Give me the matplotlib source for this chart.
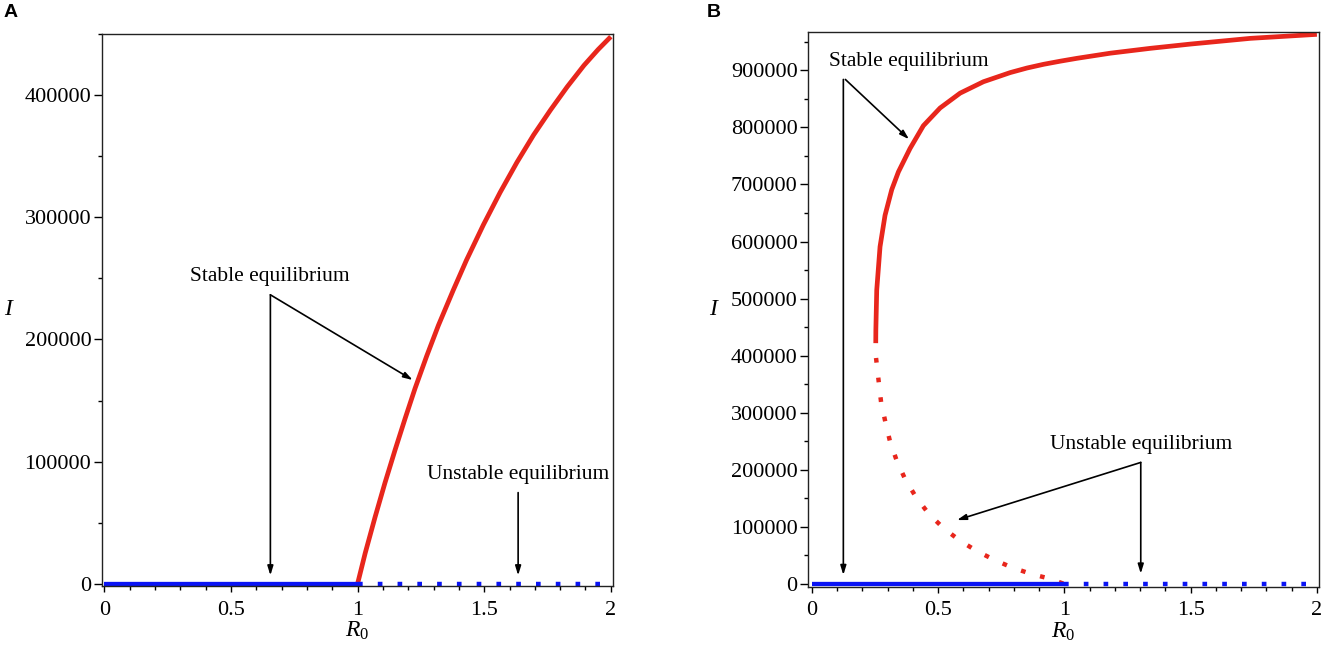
import numpy as np
import matplotlib
matplotlib.use('Agg')
import matplotlib.pyplot as plt
from matplotlib.ticker import MultipleLocator

plt.rcParams['font.family'] = ['Liberation Serif', 'DejaVu Serif']
plt.rcParams['mathtext.fontset'] = 'custom'
plt.rcParams['mathtext.rm'] = 'Liberation Serif'
plt.rcParams['mathtext.it'] = 'Liberation Serif:italic'

# panel A: forward bifurcation
a_stable_r0 = [1.0, 1.030, 1.069, 1.108, 1.148, 1.188, 1.227, 1.273, 1.319, 1.378,
               1.430, 1.497, 1.563, 1.629, 1.695, 1.762, 1.828, 1.894, 1.95, 2.0]
a_stable_I = [0, 25000, 54500, 82500, 109500, 135500, 160000, 186500, 211500, 240500,
              265000, 294000, 320500, 345000, 367500, 388000, 407000, 424500, 437500, 448000]

# panel B: backward bifurcation
b_stable_r0 = [0.2533, 0.2537, 0.2572, 0.2703, 0.2901, 0.3167, 0.343, 0.389, 0.4419,
               0.5081, 0.5874, 0.6797, 0.746, 0.7856, 0.852, 0.9176, 0.984, 1.0499,
               1.1819, 1.3405, 1.5, 1.7368, 2.0]
b_stable_I = [422000, 445000, 515000, 591000, 646000, 691000, 722000, 763000, 803000,
              834000, 860000, 880000, 890000, 896000, 904000, 910500, 916000, 921000,
              930000, 938500, 946000, 956000, 963000]
b_unstable_r0 = [0.2545, 0.2652, 0.2743, 0.2913, 0.3099, 0.3365, 0.3694, 0.4130,
                 0.4633, 0.5212, 0.5846, 0.6508, 0.7210, 0.7947, 0.8700, 0.9469, 1.0]
b_unstable_I = [396000, 354000, 319000, 284000, 249500, 216000, 184000, 152000,
                123000, 98000, 76600, 58400, 42600, 28600, 17500, 8800, 0]

# disease free equilibrium I = 0
dfe_stable_r0 = [0, 1]
dfe_unstable_r0 = [1, 2]
dfe_I = [0, 0]

red = '#e8261c'
blue = '#0a14f5'
dots = (0, (1.05, 3.4))

fig = plt.figure(figsize=(13.25, 6.5), dpi=100)
axA = fig.add_axes([0.0768, 0.0985, 0.3857, 0.8492])
axB = fig.add_axes([0.6098, 0.0974, 0.3857, 0.853])


def style(ax):
    ax.xaxis.set_major_locator(MultipleLocator(0.5))
    ax.xaxis.set_minor_locator(MultipleLocator(0.1))
    ax.yaxis.set_major_locator(MultipleLocator(100000))
    ax.yaxis.set_minor_locator(MultipleLocator(50000))
    ax.set_xticks([0, 0.5, 1, 1.5, 2])
    ax.set_xticklabels(['0', '0.5', '1', '1.5', '2'])
    ax.tick_params(axis='x', which='major', length=4.5, width=1, pad=6, labelsize=16)
    ax.tick_params(axis='x', which='minor', length=3, width=1)
    ax.tick_params(axis='y', which='major', length=6, width=1, pad=1.5, labelsize=16)
    ax.tick_params(axis='y', which='minor', length=3, width=1)
    for s in ax.spines.values():
        s.set_linewidth(1)
        s.set_color('#222222')
    ax.set_xlabel('$R_0$', fontsize=17)
    ax.xaxis.set_label_coords(0.5, -0.0815)
    ax.xaxis.label.set_va('center')
    ax.set_ylabel('$I$', fontsize=17, rotation=0, ha='center', va='center')


def arrow(ax, start, tip):
    ax.annotate('', xy=tip, xytext=start,
                arrowprops=dict(arrowstyle='-|>,head_length=0.55,head_width=0.17',
                                color='black', lw=1.2, mutation_scale=10,
                                shrinkA=0, shrinkB=0))


# ---- A ----
axA.plot(a_stable_r0, a_stable_I, color=red, lw=3.4, solid_capstyle='butt')
axA.plot(dfe_stable_r0, dfe_I, color=blue, lw=3.1, solid_capstyle='butt')
axA.plot(dfe_unstable_r0, dfe_I, color=blue, lw=3.2, linestyle=dots, dash_capstyle='butt')
axA.set_xlim(-0.0103, 2.0079)
axA.set_ylim(-1880, 450200)
style(axA)
axA.yaxis.set_label_coords(-0.181, 0.5)

axA.text(0.652, 251500, 'Stable equilibrium', fontsize=15.5, ha='center', va='center')
arrow(axA, (0.6556, 236600), (0.6556, 6800))
arrow(axA, (0.6556, 236600), (1.2176, 166800))
axA.text(1.634, 89800, 'Unstable equilibrium', fontsize=15.5, ha='center', va='center')
arrow(axA, (1.634, 74600), (1.634, 6800))

# ---- B ----
axB.plot(b_stable_r0, b_stable_I, color=red, lw=3.4, solid_capstyle='butt')
axB.plot(b_unstable_r0, b_unstable_I, color=red, lw=3.2, linestyle=dots, dash_capstyle='butt')
axB.plot(dfe_stable_r0, dfe_I, color=blue, lw=3.1, solid_capstyle='butt')
axB.plot(dfe_unstable_r0, dfe_I, color=blue, lw=3.2, linestyle=dots, dash_capstyle='butt')
axB.set_xlim(-0.015, 2.0085)
axB.set_ylim(-4700, 966700)
style(axB)
axB.yaxis.set_label_coords(-0.184, 0.5)

axB.text(0.3825, 915000, 'Stable equilibrium', fontsize=15.5, ha='center', va='center')
arrow(axB, (0.125, 884000), (0.125, 15800))
arrow(axB, (0.133, 884000), (0.385, 779200))
axB.text(1.3026, 245000, 'Unstable equilibrium', fontsize=15.5, ha='center', va='center')
arrow(axB, (1.3026, 213000), (1.3026, 18200))
arrow(axB, (1.3026, 213000), (0.575, 112000))

fig.text(10.5 / 1325, 1 - 12.4 / 650, 'A', family='Liberation Sans', weight='bold',
         fontsize=14, ha='center', va='center')
fig.text(713.3 / 1325, 1 - 12.4 / 650, 'B', family='Liberation Sans', weight='bold',
         fontsize=14, ha='center', va='center')

fig.savefig('out.png', dpi=100)
